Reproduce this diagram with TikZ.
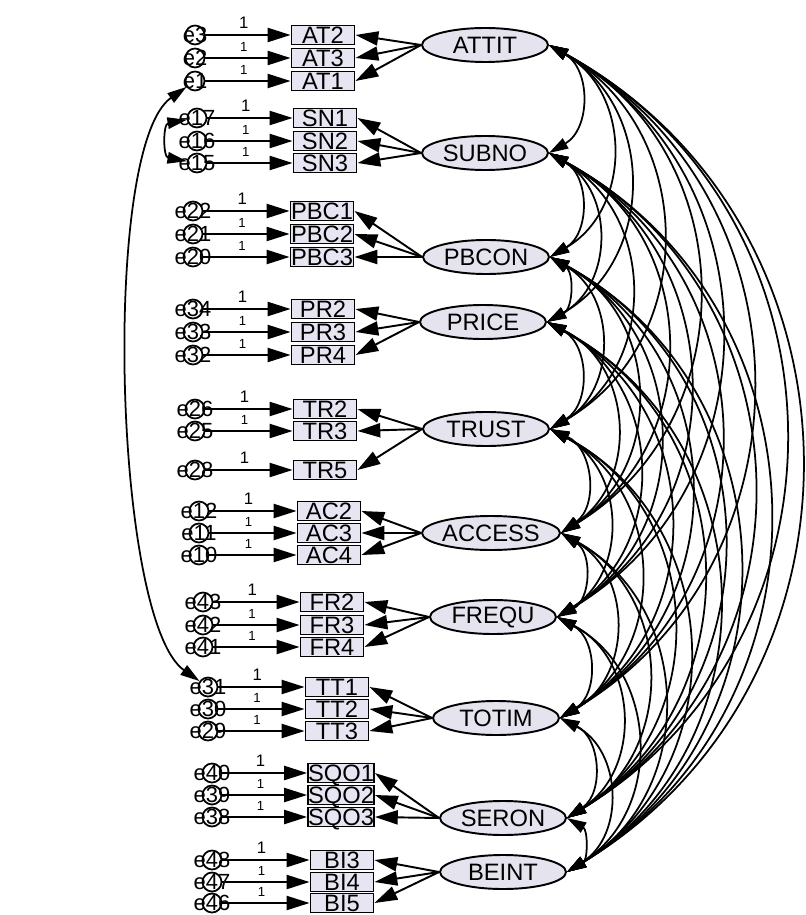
\documentclass[tikz,border=0pt]{standalone}
\usepackage{fontspec}
\setmainfont{Liberation Sans}
\usetikzlibrary{arrows.meta,shapes.geometric}
\definecolor{obsfill}{HTML}{E8E5F2}
\definecolor{latfill}{HTML}{E5E3EE}

\begin{document}
\begin{tikzpicture}[x=0.02cm,y=0.02cm,
  latent/.style={ellipse, draw, line width=1.1pt, fill=latfill, minimum width=2.52cm, minimum height=0.68cm, inner sep=0pt, font=\fontsize{13.5}{13.5}\selectfont},
  obs/.style={draw, line width=1.1pt, fill=obsfill, minimum width=1.26cm, minimum height=0.38cm, inner sep=0pt, text height=9.6pt, text depth=0.2pt, font=\fontsize{13.5}{13.5}\selectfont},
  err/.style={circle, draw, line width=1pt, minimum size=0.38cm, inner sep=0pt},
  elab/.style={inner sep=0pt, text height=8.8pt, text depth=0.2pt, font=\fontsize{12.5}{12.5}\selectfont},
  bigone/.style={inner sep=1pt, font=\fontsize{9.5}{9.5}\selectfont},
  smallone/.style={inner sep=1pt, font=\fontsize{7.5}{7.5}\selectfont},
  link/.style={line width=1.1pt, -{Triangle[length=13pt,width=8pt]}},
  cov/.style={line width=1pt, {Triangle[length=11pt,width=6.5pt]}-{Triangle[length=11pt,width=6.5pt]}}]
\useasboundingbox (0,0) rectangle (805,-915);
\fill[white] (0,0) rectangle (805,-915);

% latent factors
\foreach \i/\t/\x/\y in {1/ATTIT/485/45, 2/SUBNO/485/153, 3/PBCON/486/257, 4/PRICE/483/322, 5/TRUST/486/429,
  6/ACCESS/491/533, 7/FREQU/493/617, 8/TOTIM/496/718, 9/SERON/503/818, 10/BEINT/503/872}
  \node[latent] (f\i) at (\x,-\y) {\t};

% indicators with their error terms
\foreach \f/\t/\bx/\y/\e/\ex/\s in {
  1/AT2/323/35/e3/195/bigone, 1/AT3/323/58/e2/195/smallone, 1/AT1/323/81/e1/195/smallone,
  2/SN1/325/118/e17/197/bigone, 2/SN2/325/141/e16/197/smallone, 2/SN3/325/163/e15/197/smallone,
  3/PBC1/322/211/e22/193/bigone, 3/PBC2/322/234/e21/193/smallone, 3/PBC3/322/257/e20/193/smallone,
  4/PR2/323/309/e34/193/bigone, 4/PR3/323/332/e33/193/smallone, 4/PR4/323/355/e32/193/smallone,
  5/TR2/325/409/e26/195/bigone, 5/TR3/325/431/e25/195/smallone, 5/TR5/325/470/e28/195/bigone,
  6/AC2/329/511/e12/199/bigone, 6/AC3/329/533/e11/199/smallone, 6/AC4/329/555/e10/199/smallone,
  7/FR2/332/602/e43/203/bigone, 7/FR3/332/625/e42/203/smallone, 7/FR4/332/647/e41/203/smallone,
  8/TT1/337/687/e31/208/bigone, 8/TT2/337/709/e30/208/smallone, 8/TT3/337/731/e29/208/smallone,
  9/SQO1/341/773/e40/212/bigone, 9/SQO2/341/795/e39/212/smallone, 9/SQO3/341/817/e38/212/smallone,
  10/BI3/342/860/e48/212/bigone, 10/BI4/342/882/e47/212/smallone, 10/BI5/342/903/e46/212/smallone}{
  \node[obs] (\t) at (\bx,-\y) {\t};
  \node[err] (\e) at (\ex,-\y) {};
  \node[elab] at (\e) {\e};
  \draw[link] (\e) -- node[\s, above=2pt, pos=0.45] {1} (\t);
  \draw[link] (f\f.west) -- (\t.east);
}

% covariances between factors
\foreach \i in {1,...,9}{
  \pgfmathtruncatemacro{\n}{\i+1}
  \foreach \j in {\n,...,10}
    \draw[cov] (f\i.east) to[bend left=60, looseness=1.15] (f\j.east);
}

% error covariances
\draw[cov] (e1) to[out=215, in=145, looseness=0.45] (e31);
\draw[cov] (e17) to[out=190, in=170, looseness=1.5] (e15);
\end{tikzpicture}
\end{document}
